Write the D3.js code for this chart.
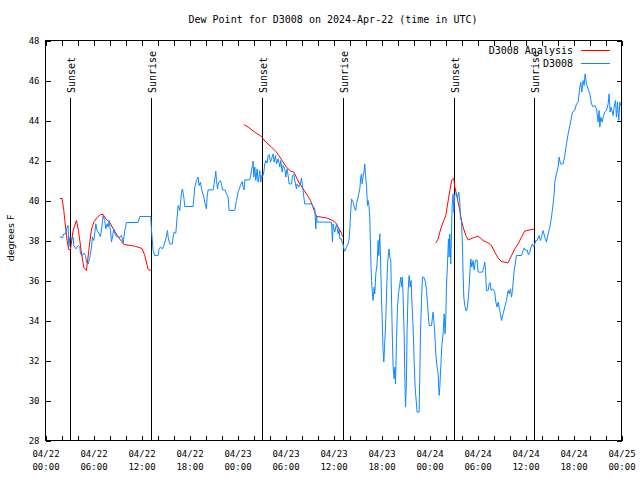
<!DOCTYPE html>
<html><head><meta charset="utf-8">
<script src="https://cdn.jsdelivr.net/npm/d3@7"></script>
<style>body{margin:0;background:#fff}svg{display:block}</style>
</head><body><svg id="c" width="640" height="480"></svg>
<script>
const title = "Dew Point for D3008 on 2024-Apr-22 (time in UTC)";
const yLabel = "degrees F";
const seriesNames = ["D3008 Analysis", "D3008"];
const yTicks = [28,30,32,34,36,38,40,42,44,46,48];
// hours since 2024-04-22 00:00 UTC
const eventHours = [3.12, 13.16, 27.08, 37.2, 51.08, 61.08];
const eventNames = ["Sunset","Sunrise","Sunset","Sunrise","Sunset","Sunrise"];

const obsHours = [1.79,2.12,2.29,2.54,2.62,2.83,2.91,3.04,3.25,3.45,3.54,3.79,4.08,4.29,4.37,4.62,4.79,5.0,5.12,5.33,5.54,5.75,5.87,6.04,6.29,6.45,6.7,6.87,7.04,7.2,7.41,7.54,7.7,7.83,7.95,8.12,8.25,8.37,8.54,8.7,8.87,9.29,9.5,9.7,9.91,10.12,11.58,11.79,13.16,13.25,13.45,13.66,14.08,14.2,14.37,14.62,14.79,15.04,15.25,15.33,15.54,15.87,15.95,16.08,16.29,16.45,16.58,16.79,
17.0,17.12,17.29,17.41,18.45,18.66,18.87,19.08,19.2,19.37,19.5,19.79,19.95,20.12,20.2,20.33,20.95,21.08,21.29,21.37,21.5,21.66,21.87,22.0,22.12,22.41,22.62,22.83,22.95,23.66,23.87,24.08,24.37,24.58,24.7,24.83,24.91,25.54,25.87,25.95,26.04,26.16,26.29,26.45,26.58,26.79,26.91,27.0,27.12,27.29,27.41,27.54,27.7,27.83,27.95,28.12,28.25,28.45,28.58,28.75,28.87,29.08,29.29,29.41,29.58,29.7,29.91,30.04,30.2,30.33,30.45,30.75,30.87,31.04,31.16,31.37,31.45,31.66,31.87,32.0,32.12,32.29,32.41,33.25,33.45,33.66,33.79,33.87,33.95,35.75,35.87,35.95,36.16,36.37,36.58,36.7,36.79,37.0,37.12,37.2,37.29,37.41,37.62,37.83,37.95,
38.04,38.16,38.25,38.45,38.66,38.79,38.87,39.08,39.29,39.41,39.5,39.58,39.7,39.83,39.91,40.0,40.12,40.25,40.33,40.45,40.54,40.66,40.75,40.87,40.95,41.08,41.16,41.29,41.45,41.58,41.66,41.79,41.87,42.0,42.12,42.2,42.29,42.37,42.5,42.62,42.75,42.87,42.95,43.04,43.16,43.25,43.37,43.45,43.58,43.66,43.75,43.87,44.0,44.12,44.29,44.41,44.5,44.62,44.7,44.83,44.91,45.0,45.12,45.2,45.33,45.45,45.58,45.7,45.83,45.95,46.08,46.2,46.45,46.7,46.79,46.87,47.0,47.12,47.29,47.5,47.62,47.75,47.87,47.95,48.25,48.37,48.45,48.54,48.66,48.79,48.95,49.08,49.2,49.29,49.41,49.54,49.7,49.83,49.95,50.04,50.12,50.25,50.37,50.45,50.54,50.66,50.75,50.83,50.95,
51.04,51.16,51.37,51.5,51.66,51.79,51.87,52.0,52.12,52.2,52.29,52.41,52.54,52.66,52.83,52.95,53.04,53.16,53.29,53.45,53.58,53.75,53.95,54.08,54.62,54.79,54.91,55.0,55.12,55.33,55.45,55.58,55.7,55.91,56.16,56.29,56.45,56.58,56.7,56.87,57.0,57.2,57.41,57.62,57.83,57.95,58.12,58.25,58.37,58.54,58.66,58.87,59.5,59.7,59.83,60.04,60.2,60.37,60.54,60.75,60.87,61.04,61.29,61.45,61.7,61.87,62.0,62.2,62.41,62.62,62.83,63.04,63.25,63.45,63.58,63.66,63.87,64.08,64.2,64.37,64.7,64.91,65.12,65.33,65.54,65.75,65.87,66.16,66.37,66.58,66.79,66.91,67.04,67.2,67.33,67.45,67.62,67.83,68.04,68.25,68.45,68.66,68.87,69.08,69.2,69.29,69.41,69.58,69.75,69.91,70.12,70.33,70.45,70.58,70.7,70.95,71.08,71.25,71.37,71.5,71.66,71.79,71.91];
const obsValues = [38.2,38.13,38.33,38.33,38.58,38.75,37.67,38.17,38.08,38.17,37.75,37.58,37.75,37.67,37.33,37.25,37.37,37.25,36.92,36.83,37.17,37.67,38.17,38.0,38.83,38.5,38.33,38.2,38.67,39.25,39.0,38.58,38.83,38.67,39.0,38.5,37.92,38.17,38.58,38.33,38.2,38.17,38.25,37.87,38.5,38.9,38.9,39.2,39.2,38.5,37.5,37.25,37.25,37.58,37.67,37.58,37.75,38.08,38.5,38.17,37.83,37.83,38.17,38.42,38.37,39.17,39.75,39.5,
40.42,40.58,40.17,39.7,39.7,40.67,41.0,41.17,40.75,40.92,40.58,40.17,39.83,39.58,40.17,40.53,40.53,40.83,41.47,41.0,40.58,40.92,41.0,40.83,40.53,40.53,40.33,40.17,39.5,39.5,40.0,40.42,40.75,40.95,40.67,40.53,41.03,41.03,41.75,41.97,41.17,41.67,41.0,41.58,40.92,41.5,40.92,41.25,41.17,41.42,41.83,42.0,41.87,42.25,42.3,41.92,42.08,42.33,41.92,42.25,41.83,42.08,41.67,42.0,41.42,41.75,41.58,41.17,41.58,41.25,40.83,40.83,41.25,41.3,41.0,40.58,40.83,40.67,40.83,41.13,40.75,40.17,39.83,39.83,39.7,39.58,38.58,39.25,38.92,38.92,37.92,38.83,38.42,38.83,38.33,38.58,38.08,38.08,37.83,37.83,37.58,37.47,37.67,37.83,38.08,
38.58,39.5,40.08,39.92,39.58,39.5,39.83,40.17,40.58,41.17,41.33,40.83,41.2,41.5,41.83,41.25,40.75,39.75,40.0,39.67,39.08,37.17,36.0,35.33,35.0,35.67,35.33,36.33,36.83,38.0,37.25,38.33,37.17,35.17,33.58,32.5,31.92,32.58,33.67,35.17,36.83,37.33,37.58,37.17,37.0,35.17,32.92,31.67,31.08,31.67,30.83,33.0,34.67,35.33,35.83,36.17,35.67,36.17,35.17,33.33,31.33,29.67,31.0,33.5,35.5,36.25,35.67,36.0,34.67,33.67,32.0,30.67,29.42,29.42,31.33,33.33,35.0,36.17,36.17,35.92,35.5,34.83,34.17,33.75,33.75,34.17,34.42,34.0,33.33,32.33,31.67,31.33,30.25,30.67,31.67,32.75,33.33,34.33,33.33,34.17,35.67,36.83,38.08,37.17,38.33,36.83,38.33,39.75,40.33,
39.4,40.33,40.33,40.1,40.42,39.9,39.08,39.0,37.67,36.33,35.17,34.75,34.5,34.5,35.0,35.67,36.33,37.08,36.67,37.0,36.53,37.0,37.03,36.42,36.42,36.67,36.92,36.5,35.5,35.5,35.83,35.9,35.5,35.58,35.42,34.92,34.67,34.92,34.67,34.33,34.0,34.33,34.67,35.0,35.5,35.33,35.58,35.17,35.5,36.33,36.67,37.25,37.25,37.5,37.63,37.5,37.53,37.28,37.42,37.75,37.83,37.67,38.0,38.0,38.25,38.0,38.17,38.5,38.17,37.92,38.33,38.67,39.17,39.83,40.33,40.92,41.33,41.67,42.17,41.83,41.83,42.25,42.83,43.33,43.75,44.17,44.42,44.5,44.83,44.92,45.67,45.92,45.42,46.0,45.75,46.33,45.83,45.58,45.33,44.83,44.67,44.75,44.58,43.92,44.5,43.67,44.17,43.92,44.25,44.42,44.5,44.83,45.33,44.42,44.67,44.25,44.67,45.0,44.17,44.92,44.0,44.92,44.75];

// analysis series; null separates the three runs
const anaHours = [1.79,2.08,2.29,2.41,2.7,2.91,3.12,3.45,3.87,4.12,4.45,4.79,5.12,5.41,5.75,6.08,6.45,6.87,7.2,7.62,8.04,8.45,8.95,9.5,9.79,11.16,12.08,12.41,12.83,13.16,null,
24.79,25.33,26.16,27.0,27.54,28.25,28.87,29.29,29.7,30.12,30.62,31.04,31.45,31.79,32.2,32.62,33.12,33.37,33.66,33.87,34.5,35.12,35.75,36.04,36.37,36.7,37.0,37.12,null,
48.79,49.08,49.29,49.5,49.79,50.04,50.2,50.37,50.54,50.79,50.95,51.04,51.16,51.37,51.58,51.79,52.0,52.2,52.54,52.83,53.45,54.08,54.7,55.33,55.75,56.16,56.58,57.0,57.83,58.25,58.66,59.08,59.5,59.91,60.54,61.08];
const anaValues = [40.1,40.1,39.5,39.0,38.0,37.55,37.55,38.5,39.0,38.5,37.5,36.65,36.5,37.5,38.58,38.95,39.15,39.3,39.3,39.05,38.9,38.6,38.27,37.95,37.8,37.72,37.6,37.25,36.55,36.5,null,
43.8,43.67,43.42,43.2,42.92,42.67,42.42,42.17,41.92,41.67,41.47,41.42,41.08,40.83,40.58,40.33,40.0,39.75,39.42,39.2,39.17,39.13,39.03,38.97,38.83,38.58,38.37,38.2,null,
37.88,38.08,38.42,38.7,39.0,39.25,39.67,40.08,40.5,41.03,41.1,41.08,40.67,40.33,39.92,39.5,39.0,38.67,38.25,38.03,38.13,38.22,38.0,37.88,37.75,37.42,37.12,36.95,36.88,37.25,37.58,37.83,38.17,38.47,38.53,38.57];

const T0 = Date.UTC(2024,3,22);
const toDate = h => new Date(T0 + h*3600e3);
const MONO = "'DejaVu Sans Mono', monospace";
const RED = "#ff0000", BLUE = "#1088ff";

const L = 45.5, R = 621.5, T = 40.5, B = 440.5;
const svg = d3.select("#c");
const x = d3.scaleUtc().domain([toDate(0), toDate(72)]).range([L, R]);
const y = d3.scaleLinear().domain([28, 48]).range([B, T]);

const minorTicks = d3.range(0, 73, 2).map(toDate);
const labelTicks = d3.range(0, 73, 6).map(toDate);

function styleAxis(g){
  g.select(".domain").remove();
  g.selectAll("line").attr("stroke","#000").attr("shape-rendering","crispEdges");
  g.attr("font-family", MONO).attr("font-size", 9);
}
svg.append("g").attr("transform",`translate(0,${B})`)
  .call(d3.axisBottom(x).tickValues(minorTicks).tickSizeInner(-5).tickSizeOuter(0).tickFormat(()=>"")).call(styleAxis);
svg.append("g").attr("transform",`translate(0,${T})`)
  .call(d3.axisTop(x).tickValues(minorTicks).tickSizeInner(-5).tickSizeOuter(0).tickFormat(()=>"")).call(styleAxis);
const lab = svg.append("g").attr("transform",`translate(0,${B})`)
  .call(d3.axisBottom(x).tickValues(labelTicks).tickSize(0).tickPadding(10).tickFormat(d3.utcFormat("%m/%d"))).call(styleAxis);
lab.selectAll("text").attr("fill","#000").each(function(d){
  d3.select(this).append("tspan").attr("x",0).attr("dy","13").text(d3.utcFormat("%H:%M")(d));
});
svg.append("g").attr("transform",`translate(${L},0)`)
  .call(d3.axisLeft(y).tickValues(yTicks).tickSizeInner(-5).tickSizeOuter(0).tickPadding(6)).call(styleAxis)
  .selectAll("text").attr("fill","#000");
svg.append("g").attr("transform",`translate(${R},0)`)
  .call(d3.axisRight(y).tickValues(yTicks).tickSizeInner(-5).tickSizeOuter(0).tickFormat(()=>"")).call(styleAxis);

svg.append("rect").attr("x",L).attr("y",T).attr("width",R-L).attr("height",B-T)
  .attr("fill","none").attr("stroke","#000").attr("shape-rendering","crispEdges");

const ev = svg.append("g");
eventHours.forEach((h,i)=>{
  const xx = Math.round(x(toDate(h))) + 0.5;
  ev.append("line").attr("x1",xx).attr("x2",xx).attr("y1",98).attr("y2",B)
    .attr("stroke","#000").attr("shape-rendering","crispEdges");
  ev.append("text").attr("transform",`translate(${xx+4},93) rotate(-90)`)
    .attr("font-family",MONO).attr("font-size",10).text(eventNames[i]);
});

const anaData = anaHours.map((h,i)=>({h, v:anaValues[i]}));
const obsData = obsHours.map((h,i)=>({h, v:obsValues[i]}));
const line = d3.line().defined(d=>d.h!==null && d.v!==null).x(d=>x(toDate(d.h))).y(d=>y(d.v));
svg.append("path").datum(anaData).attr("d",line).attr("fill","none").attr("stroke",RED).attr("stroke-width",1);
svg.append("path").datum(obsData).attr("d",line).attr("fill","none").attr("stroke",BLUE).attr("stroke-width",1);

const leg = svg.append("g").attr("font-family",MONO).attr("font-size",10);
[[seriesNames[0],RED,50.5],[seriesNames[1],BLUE,63.5]].forEach(([t,c,yy])=>{
  leg.append("text").attr("x",573).attr("y",yy+3.5).attr("text-anchor","end").text(t);
  leg.append("line").attr("x1",581).attr("x2",610).attr("y1",yy).attr("y2",yy).attr("stroke",c).attr("shape-rendering","crispEdges");
});

svg.append("text").attr("x",333).attr("y",23).attr("text-anchor","middle")
  .attr("font-family",MONO).attr("font-size",10).text(title);
svg.append("text").attr("transform","translate(14,238) rotate(-90)").attr("text-anchor","middle")
  .attr("font-family","'DejaVu Sans', sans-serif").attr("font-size",9.5).text(yLabel);
</script></body></html>
